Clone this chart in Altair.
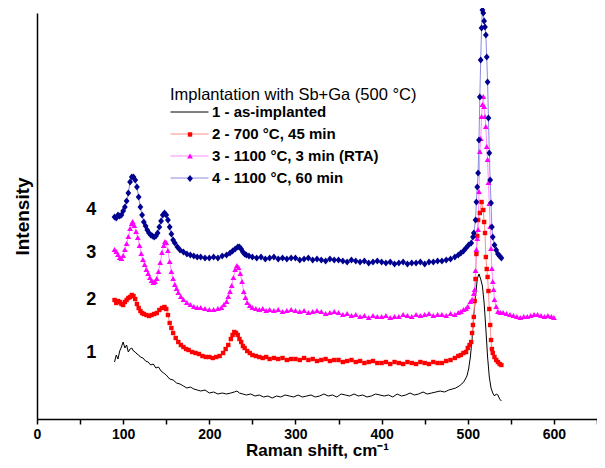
import altair as alt
import pandas as pd

FONT = "Liberation Sans"

series_names = [
    "1 - as-implanted",
    "2 -  700 °C, 45 min",
    "3 -  1100 °C, 3 min (RTA)",
    "4 -  1100 °C, 60 min",
]

# Series 1 (black line)
x1 = [90, 92, 94, 96, 98, 100, 102, 104, 106, 108,
      110, 112, 114, 116, 118, 120, 123, 126, 129, 132,
      135, 138, 141, 144, 147, 150, 154, 158, 162, 166,
      170, 174, 178, 182, 186, 190, 195, 200, 205, 210,
      215, 220, 225, 229, 232, 235, 239, 243, 248, 253,
      258, 263, 268, 273, 278, 283, 288, 293, 298, 303,
      308, 313, 318, 323, 328, 333, 338, 343, 348, 353,
      358, 363, 368, 373, 378, 383, 388, 393, 398, 403,
      408, 413, 418, 423, 428, 433, 438, 443, 448, 453,
      458, 463, 468, 473, 478, 482, 486, 490, 493, 496,
      499, 501, 503, 505, 507, 509, 511, 513, 515, 517,
      519, 521, 523, 525, 527, 529, 531, 533, 535, 537,
      539]
y1 = [57, 64, 60, 68, 72, 77, 71, 74, 67, 70,
      71, 68, 67, 65, 64, 62, 61, 58, 57, 54,
      55, 51, 52, 48, 46, 44, 40, 39, 36, 35,
      33, 31, 32, 30, 29, 28, 29, 26, 27, 25,
      26, 25, 26, 27, 28, 26, 25, 24, 25, 23,
      24, 22, 23, 21, 23, 22, 24, 23, 22, 24,
      22, 23, 24, 22, 23, 25, 23, 24, 22, 25,
      24, 23, 25, 23, 24, 22, 23, 25, 24, 23,
      24, 22, 25, 23, 24, 26, 24, 25, 27, 25,
      26, 27, 28, 27, 29, 30, 31, 33, 35, 38,
      43, 50, 62, 80, 104, 122, 140, 145, 140, 133,
      116, 90, 62, 42, 31, 26, 23, 25, 24, 20,
      18]

# Series 2 (red squares)
x2 = [90, 92, 94, 96, 98, 100, 102, 104, 106, 108,
      110, 112, 114, 116, 118, 120, 122, 124, 127, 130,
      133, 136, 139, 142, 145, 148, 150, 152, 154, 156,
      158, 161, 164, 167, 170, 173, 176, 180, 184, 188,
      192, 196, 200, 204, 208, 212, 216, 219, 222, 225,
      227, 229, 231, 233, 235, 237, 239, 241, 244, 247,
      250, 254, 258, 262, 266, 270, 275, 280, 285, 290,
      295, 300, 305, 310, 315, 320, 325, 330, 335, 340,
      345, 350, 355, 360, 365, 370, 375, 380, 385, 390,
      395, 400, 405, 410, 415, 420, 425, 430, 435, 440,
      445, 450, 455, 460, 465, 470, 475, 480, 485, 489,
      492, 495, 498, 500, 502, 504, 505, 506, 507, 508,
      509, 510, 511, 512, 514, 516, 518, 519, 520, 521,
      522, 523, 524, 525, 526, 527, 528, 529, 531, 533,
      535, 537, 539]
y2 = [119, 116, 118, 117, 115, 114, 117, 119, 121, 122,
      124, 123, 120, 115, 111, 108, 106, 105, 104, 103,
      104, 105, 106, 109, 111, 112, 110, 104, 96, 91,
      86, 81, 77, 74, 72, 70, 69, 67, 66, 65,
      63, 62, 62, 61, 62, 63, 66, 70, 74, 80,
      84, 87, 86, 84, 80, 77, 73, 71, 68, 66,
      64, 63, 62, 61, 62, 60, 61, 60, 61, 59,
      60, 60, 59, 61, 59, 60, 58, 59, 60, 58,
      59, 59, 57, 58, 59, 57, 58, 56, 57, 58,
      56, 56, 57, 55, 57, 56, 55, 57, 56, 55,
      57, 56, 55, 57, 56, 56, 58, 59, 61, 63,
      64, 66, 67, 71, 74, 77, 86, 94, 102, 118,
      140, 165, 183, 199, 206, 217, 209, 197, 186, 162,
      150, 142, 128, 110, 94, 79, 70, 66, 62, 59,
      57, 55, 54]

# Series 3 (magenta triangles)
x3 = [90, 92, 94, 96, 98, 100, 102, 104, 106, 108,
      110, 111, 113, 115, 117, 119, 121, 123, 125, 127,
      129, 131, 133, 135, 137, 139, 141, 143, 145, 147,
      148.5, 150, 152, 154, 156, 158, 160, 162, 164, 167,
      170, 174, 178, 182, 186, 190, 195, 200, 205, 210,
      214, 217, 220, 222, 224, 226, 228, 230, 232, 234,
      236, 238, 240, 242, 244, 247, 250, 254, 258, 262,
      266, 270, 275, 280, 285, 290, 295, 300, 305, 310,
      315, 320, 325, 330, 335, 340, 345, 350, 355, 360,
      365, 370, 375, 380, 385, 390, 395, 400, 405, 410,
      415, 420, 425, 430, 435, 440, 445, 450, 455, 460,
      465, 470, 475, 480, 485, 489, 492, 495, 498, 500,
      503, 505, 507, 508, 509, 510, 511, 512, 513, 514,
      515, 516, 517, 518, 519, 520, 521, 522, 523, 524,
      525, 526, 527, 528, 529, 530, 531, 533, 535, 538,
      541, 545, 549, 553, 557, 561, 565, 569, 573, 577,
      581, 585, 589, 593, 597, 600]
y3 = [169, 167, 164, 161, 160, 163, 169, 175, 182, 190,
      195, 197, 193, 187, 181, 173, 165, 159, 154, 149,
      145, 141, 138, 136, 137, 140, 147, 156, 166, 173,
      177, 176, 168, 157, 147, 140, 134, 130, 126, 122,
      119, 116, 114, 112, 111, 111, 110, 109, 109, 110,
      111, 114, 117, 122, 127, 133, 141, 149, 153, 151,
      145, 137, 127, 121, 116, 113, 111, 110, 109, 110,
      108, 109, 108, 109, 107, 108, 109, 108, 107, 108,
      106, 107, 108, 107, 105, 106, 107, 106, 104, 105,
      103, 104, 102, 103, 101, 103, 102, 102, 103, 101,
      102, 102, 104, 103, 102, 104, 103, 104, 105, 103,
      104, 104, 103, 105, 104, 106, 107, 109, 110, 112,
      117, 119, 125, 129, 148, 169, 180, 189, 227, 267,
      280, 302, 314, 322, 312, 302, 292, 272, 259, 236,
      215, 192, 170, 150, 137, 129, 119, 112, 107, 106,
      106, 105, 104, 103, 102, 101, 102, 102, 103, 104,
      104, 103, 102, 103, 102, 101]

# Series 4 (navy diamonds)
x4 = [90, 92, 94, 96, 98, 100, 102, 104, 106, 108,
      110, 112, 114, 116, 118, 120, 122, 124, 126, 128,
      130, 132, 134, 136, 138, 140, 142, 144, 146, 148,
      150, 152, 154, 156, 158, 160, 163, 166, 170, 174,
      178, 182, 186, 190, 195, 200, 205, 210, 215, 220,
      224, 227, 230, 233, 235, 237, 239, 241, 243, 246,
      250, 255, 260, 265, 270, 275, 280, 285, 290, 295,
      300, 305, 310, 315, 320, 325, 330, 335, 340, 345,
      350, 355, 360, 365, 370, 375, 380, 385, 390, 395,
      400, 405, 410, 415, 420, 425, 430, 435, 440, 445,
      450, 455, 460, 465, 470, 475, 480, 485, 489, 492,
      495, 498, 501, 504, 506, 507, 509, 510, 511, 512,
      513, 514, 515, 516, 517, 518, 519, 520, 521, 522,
      523, 524, 525, 526, 527, 528, 529, 531, 533, 535,
      537, 539]
y4 = [202, 201, 204, 203, 204, 208, 212, 218, 226, 237,
      242, 242, 239, 232, 222, 212, 204, 197, 193, 189,
      186, 184, 183, 182, 183, 186, 192, 198, 204, 206,
      204, 199, 192, 185, 179, 176, 172, 169, 167, 165,
      164, 163, 162, 162, 161, 161, 162, 161, 163, 164,
      166, 168, 170, 172, 172, 170, 167, 165, 164, 163,
      162, 161, 162, 160, 161, 162, 160, 161, 160, 161,
      161, 159, 160, 161, 159, 160, 159, 158, 160, 159,
      159, 158, 157, 159, 158, 157, 158, 156, 157, 158,
      157, 156, 157, 155, 156, 157, 155, 156, 156, 157,
      155, 157, 157, 158, 158, 159, 160, 162, 164, 166,
      168, 171, 174, 176, 182, 186, 199, 217, 232, 246,
      279, 322, 359, 391, 409, 406, 398, 392, 384, 362,
      337, 301, 266, 239, 216, 192, 182, 174, 169, 165,
      163, 161]

# Curve number annotations
label_text = ["1", "2", "3", "4"]
label_x = [63, 63, 63, 63]
label_y = [66, 119, 166, 209]

marker_colors = ["#000000", "#ff0000", "#ff00ff", "#000090"]
line_colors = ["#000000", "#ff8c8c", "#ff8cff", "#8c8ce0"]
marker_paths = [
    "M0,0",
    "M-0.22,-0.22H0.22V0.22H-0.22Z",
    "M0,-0.3L0.29,0.21H-0.29Z",
    "M0,-0.34L0.29,0L0,0.34L-0.29,0Z",
]

rows = []
for name, xs, ys in zip(series_names, [x1, x2, x3, x4], [y1, y2, y3, y4]):
    assert len(xs) == len(ys), name
    for a, b in zip(xs, ys):
        rows.append({"series": name, "shift": a, "intensity": b})
df = pd.DataFrame(rows)
df["order"] = range(len(df))

labels_df = pd.DataFrame({"t": label_text, "shift": label_x, "intensity": label_y})

x_enc = alt.X(
    "shift:Q",
    scale=alt.Scale(domain=[0, 650], nice=False, zero=False),
    axis=alt.Axis(
        title="Raman shift, cm\u207b\u00b9",
        values=list(range(0, 651, 50)),
        labelExpr="datum.value % 100 == 0 ? datum.label : ''",
        grid=False, domainColor="black", domainWidth=1.5,
        tickColor="black", tickWidth=1.5, tickSize=5,
        labelFont=FONT, labelFontSize=14, labelFontWeight="bold",
        labelColor="black", labelPadding=3, labelFlush=False, labelOverlap=False,
        titleFont=FONT, titleFontSize=17, titleFontWeight="bold",
        titleColor="black", titlePadding=1,
    ),
)
y_enc = alt.Y(
    "intensity:Q",
    scale=alt.Scale(domain=[0, 406], nice=False, zero=False),
    axis=alt.Axis(
        title="Intensity", labels=False, ticks=False, grid=False,
        domainColor="black", domainWidth=1.5,
        titleFont=FONT, titleFontSize=19, titleFontWeight="bold",
        titleColor="black", titlePadding=5,
    ),
)

legend_common = dict(
    orient="none", legendX=133, legendY=74,
    title="Implantation with Sb+Ga (500 °C)",
    titleFont=FONT, titleFontSize=16.5, titleFontWeight="normal",
    titlePadding=-2, titleLimit=500,
    labelFont=FONT, labelFontSize=15, labelFontWeight="bold",
    labelLimit=500, symbolSize=400, symbolOffset=9, labelOffset=12,
    rowPadding=3, padding=0,
)

legend_lines = alt.Legend(
    symbolType="M-1.9,0H1.9", symbolStrokeWidth=1,
    titleColor="black", labelColor="black", **legend_common
)
legend_points = alt.Legend(
    titleColor="transparent", labelColor="transparent", **legend_common
)

lines = alt.Chart(df).mark_line(strokeWidth=1).encode(
    x=x_enc, y=y_enc,
    color=alt.Color("series:N", scale=alt.Scale(domain=series_names, range=line_colors),
                    legend=legend_lines),
    order="order:Q",
)

points = alt.Chart(df).transform_filter(
    alt.datum.series != series_names[0]
).mark_point(filled=True, size=400, opacity=1).encode(
    x=x_enc, y=y_enc,
    color=alt.Color("series:N", scale=alt.Scale(domain=series_names, range=marker_colors),
                    legend=legend_points),
    shape=alt.Shape("series:N", scale=alt.Scale(domain=series_names, range=marker_paths),
                    legend=legend_points),
)

text = alt.Chart(labels_df).mark_text(
    font=FONT, fontSize=18, fontWeight="bold", color="black"
).encode(x=x_enc, y=y_enc, text="t:N")

chart = alt.layer(lines, points, text).resolve_scale(
    color="independent", shape="independent"
).resolve_legend(
    color="independent", shape="independent"
).properties(
    width=560, height=406,
    autosize=alt.AutoSizeParams(type="none"),
    padding={"left": 29, "top": 5, "right": 0, "bottom": 41},
).configure_view(stroke=None)

chart.save("out.html", embed_options={"renderer": "svg", "actions": False})
